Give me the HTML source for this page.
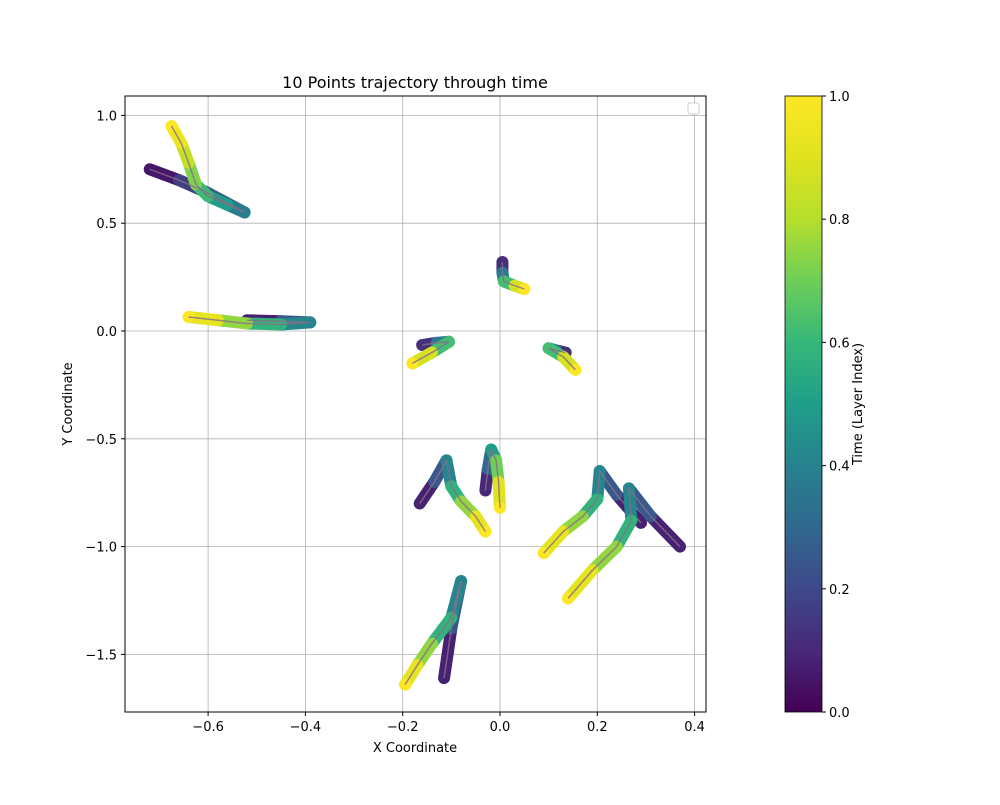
<!DOCTYPE html>
<html><head><meta charset="utf-8"><style>
body{margin:0;background:#fff;font-family:"Liberation Sans","DejaVu Sans",sans-serif}
svg text{font-family:"DejaVu Sans","Liberation Sans",sans-serif;font-size:13px}
</style></head><body>
<svg id="chart" width="1000" height="800" viewBox="0 0 1000 800" xmlns="http://www.w3.org/2000/svg">
<defs><linearGradient id="vir" x1="0" y1="1" x2="0" y2="0">
<stop offset="0" stop-color="#440154"/><stop offset="0.1" stop-color="#482878"/><stop offset="0.2" stop-color="#3e4989"/><stop offset="0.3" stop-color="#31688e"/><stop offset="0.4" stop-color="#26828e"/><stop offset="0.5" stop-color="#1f9e89"/><stop offset="0.6" stop-color="#35b779"/><stop offset="0.7" stop-color="#6ece58"/><stop offset="0.8" stop-color="#b5de2b"/><stop offset="0.9" stop-color="#e0e31e"/><stop offset="1" stop-color="#fde725"/></linearGradient></defs>
<text x="415" y="88" text-anchor="middle" style="font-size:16px">10 Points trajectory through time</text>
<g id="grid"></g><g id="marks"></g>
<rect x="125" y="96" width="581" height="616" fill="none" stroke="#000" stroke-width="1"/>
<rect x="688" y="103" width="11" height="11" fill="#fff" stroke="#ccc" rx="2"/>
<g id="ticks"></g>
<text x="415" y="752" text-anchor="middle">X Coordinate</text>
<text transform="translate(72,404) rotate(-90)" text-anchor="middle">Y Coordinate</text>
<rect x="785" y="96" width="37" height="616" fill="url(#vir)" stroke="#000" stroke-width="0.8"/>
<g id="cbticks"></g>
<text transform="translate(862,404) rotate(-90)" text-anchor="middle">Time (Layer Index)</text>
</svg>
<script>
const xTicks=[-0.6,-0.4,-0.2,0.0,0.2,0.4];
const yTicks=[1.0,0.5,0.0,-0.5,-1.0,-1.5];
const cbTicks=[0,0.2,0.4,0.6,0.8,1.0];
const tr1x=[-0.72,-0.66,-0.6,-0.525,-0.56,-0.6,-0.625,-0.64,-0.655,-0.675];
const tr1y=[0.75,0.70,0.64,0.55,0.585,0.625,0.68,0.78,0.87,0.95];
const tr2x=[-0.52,-0.45,-0.39,-0.45,-0.52,-0.58,-0.64];
const tr2y=[0.05,0.045,0.04,0.03,0.035,0.05,0.065];
const tr3x=[0.005,0.005,0.008,0.03,0.05];
const tr3y=[0.32,0.27,0.23,0.21,0.195];
const tr4x=[-0.16,-0.13,-0.105,-0.14,-0.18];
const tr4y=[-0.065,-0.055,-0.05,-0.1,-0.15];
const tr5x=[0.135,0.115,0.1,0.13,0.155];
const tr5y=[-0.1,-0.09,-0.08,-0.12,-0.18];
const tr6x=[-0.165,-0.135,-0.11,-0.1,-0.08,-0.05,-0.03];
const tr6y=[-0.8,-0.7,-0.6,-0.72,-0.79,-0.86,-0.93];
const tr7x=[-0.03,-0.025,-0.018,-0.008,-0.003,0.0];
const tr7y=[-0.74,-0.64,-0.55,-0.6,-0.7,-0.82];
const tr8x=[0.29,0.24,0.205,0.2,0.17,0.13,0.09];
const tr8y=[-0.89,-0.76,-0.65,-0.78,-0.86,-0.93,-1.03];
const tr9x=[0.37,0.31,0.265,0.27,0.24,0.19,0.14];
const tr9y=[-1.0,-0.86,-0.73,-0.88,-1.0,-1.11,-1.24];
const tr10x=[-0.115,-0.1,-0.08,-0.1,-0.14,-0.17,-0.195];
const tr10y=[-1.61,-1.38,-1.16,-1.33,-1.45,-1.55,-1.64];
const trajX=[tr1x,tr2x,tr3x,tr4x,tr5x,tr6x,tr7x,tr8x,tr9x,tr10x];
const trajY=[tr1y,tr2y,tr3y,tr4y,tr5y,tr6y,tr7y,tr8y,tr9y,tr10y];
const NS="http://www.w3.org/2000/svg";
const sx=v=>500+v*486.5, sy=v=>331-v*215.6;
const cy=v=>712-v*616;
const V=[[68,1,84],[72,40,120],[62,73,137],[49,104,142],[38,130,142],[31,158,137],[53,183,121],[110,206,88],[181,222,43],[224,227,30],[253,231,37]];
function vir(t){t=Math.max(0,Math.min(1,t));const f=t*10,i=Math.min(9,Math.floor(f)),u=f-i;const a=V[i],b=V[i+1];return `rgb(${a.map((c,k)=>Math.round(c+(b[k]-c)*u)).join(',')})`;}
function el(tag,attrs,parent){const e=document.createElementNS(NS,tag);for(const k in attrs)e.setAttribute(k,attrs[k]);parent.appendChild(e);return e;}
const grid=document.getElementById('grid'),ticks=document.getElementById('ticks'),marks=document.getElementById('marks'),cbt=document.getElementById('cbticks');
xTicks.forEach(v=>{const x=sx(v);
 const g=el('line',{x1:x,x2:x,y1:96,y2:712,stroke:'#b0b0b0','stroke-width':0.8},grid);
 
 el('line',{x1:x,x2:x,y1:712,y2:716,stroke:'#000'},ticks);
 const t=el('text',{x:x,y:731,'text-anchor':'middle'},ticks);t.textContent=(v<0?'\u2212':'')+Math.abs(v).toFixed(1);
 });
yTicks.forEach(v=>{const y=sy(v);
 const g=el('line',{x1:125,x2:706,y1:y,y2:y,stroke:'#b0b0b0','stroke-width':0.8},grid);
 
 el('line',{x1:121,x2:125,y1:y,y2:y,stroke:'#000'},ticks);
 const t=el('text',{x:117,y:y+5,'text-anchor':'end'},ticks);t.textContent=(v<0?'\u2212':'')+Math.abs(v).toFixed(1);
 });
cbTicks.forEach(v=>{const y=cy(v);
 el('line',{x1:822,x2:826,y1:y,y2:y,stroke:'#000'},cbt);
 const t=el('text',{x:829,y:y+5},cbt);t.textContent=v.toFixed(1);
 });
trajX.forEach((xs,i)=>{const ys=trajY[i];const n=xs.length;
 const g=el('g',{},marks);
 
 for(let k=0;k<n-1;k++){const t=(k+0.5)/(n-1);
  el('line',{x1:sx(xs[k]),y1:sy(ys[k]),x2:sx(xs[k+1]),y2:sy(ys[k+1]),stroke:vir(t),'stroke-width':12,'stroke-linecap':'round'},g);}
 el('circle',{cx:sx(xs[n-1]),cy:sy(ys[n-1]),r:6,fill:vir(1)},g);
 el('polyline',{points:xs.map((x,k)=>sx(x)+','+sy(ys[k])).join(' '),fill:'none',stroke:'#8a6d8a','stroke-width':1.5,opacity:0.8},g);
});
</script>
</body></html>
